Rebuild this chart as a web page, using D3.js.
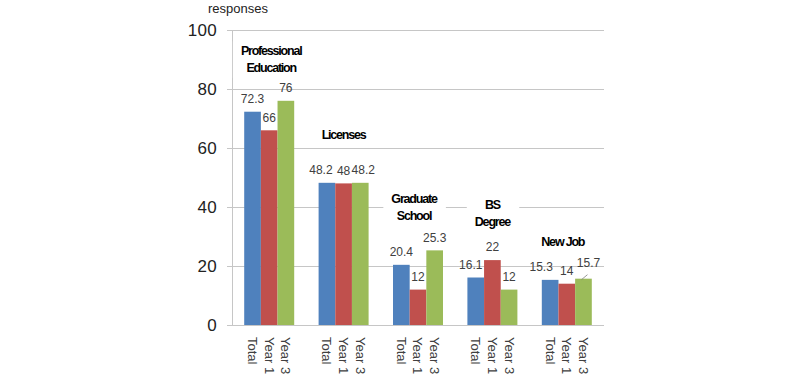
<!DOCTYPE html>
<html><head><meta charset="utf-8">
<script src="https://cdn.jsdelivr.net/npm/d3@7/dist/d3.min.js"></script>
<style>
body{margin:0;background:#fff;}
svg{display:block;font-family:"Liberation Sans",Arial,sans-serif;}
</style></head>
<body><svg id="c" width="800" height="378"></svg>
<script>
// ---- data ----
const categories = ["Professional Education","Licenses","Graduate School","BS Degree","New Job"];
const categoryLines = [["Professional","Education"],["Licenses"],["Graduate","School"],["BS","Degree"],["New Job"]];
const seriesNames = ["Total","Year 1","Year 3"];
const totalValues = [72.3,48.2,20.4,16.1,15.3];
const year1Values = [66,48,12,22,14];
const year3Values = [76,48.2,25.3,12,15.7];
const yTicks = [0,20,40,60,80,100];
const yTitle = "responses";

// ---- drawing ----
(function(){
const series = [totalValues, year1Values, year3Values];
const colors = ["#4F81BD","#C0504D","#9BBB59"];
const svg = d3.select("#c");
const mLeft = 232, mRight = 604, mTop = 30, mBottom = 325;

const y = d3.scaleLinear().domain([0,100]).range([mBottom, mTop]);
const x0 = d3.scaleBand().domain(categories).range([mLeft,mRight]).paddingInner(0.328).paddingOuter(0.164);
const x1 = d3.scaleBand().domain(seriesNames).range([0, x0.bandwidth()]);

// gridlines
svg.append("g").selectAll("line").data(yTicks.filter(d=>d>0)).join("line")
  .attr("x1", mLeft-5).attr("x2", mRight)
  .attr("y1", d=>y(d)).attr("y2", d=>y(d))
  .attr("stroke","#c6c6c6").attr("stroke-width",1).attr("shape-rendering","crispEdges");

// y axis
const yAxis = d3.axisLeft(y).tickValues(yTicks).tickSize(5).tickPadding(10);
const gy = svg.append("g").attr("transform",`translate(${mLeft},0)`).call(yAxis);
gy.select(".domain").attr("stroke","#c6c6c6").attr("shape-rendering","crispEdges");
gy.selectAll(".tick line").attr("stroke","#c6c6c6").attr("shape-rendering","crispEdges");
gy.selectAll(".tick text").attr("font-size",17).attr("fill","#222")
  .attr("font-family","'Liberation Sans',Arial,sans-serif").attr("letter-spacing","0.3px");

// baseline
svg.append("line").attr("x1",mLeft).attr("x2",mRight).attr("y1",y(0)).attr("y2",y(0))
  .attr("stroke","#c6c6c6").attr("shape-rendering","crispEdges");

svg.append("text").attr("x",208).attr("y",13).attr("font-size",13).attr("fill","#222").text(yTitle);

// category annotations (with white background boxes)
const annoVal = [92.9, 64.4, 42.7, 40.7, 28.1];
const annoDx = [2, 0, -4, 0, -4];
const lineH = 16.5;
categories.forEach((c,i)=>{
  const g = svg.append("g");
  const cx = x0(c) + x0.bandwidth()/2 + annoDx[i];
  const cy = y(annoVal[i]);
  const lines = categoryLines[i];
  const t = g.append("text").attr("text-anchor","middle").attr("font-size",12.5)
    .attr("font-weight","bold").attr("letter-spacing","-1.2px").attr("fill","#000");
  lines.forEach((l,j)=>{
    t.append("tspan").attr("x",cx).attr("y",cy + j*lineH).attr("dy","0.35em").text(l);
  });
  const bb = t.node().getBBox();
  g.insert("rect","text").attr("x",bb.x-8).attr("y",bb.y-3).attr("width",bb.width+16).attr("height",bb.height+6).attr("fill","#fff");
});

// bars
const barData = [];
categories.forEach((c,i)=>seriesNames.forEach((s,k)=>barData.push({c,s,k,v:series[k][i],i})));
svg.append("g").selectAll("rect").data(barData).join("rect")
  .attr("x", d=>x0(d.c)+x1(d.s)).attr("width", x1.bandwidth())
  .attr("y", d=>y(d.v)).attr("height", d=>y(0)-y(d.v))
  .attr("fill", d=>colors[d.k]);

// value labels
const labelDx = {"1-0":-6,"1-2":3,"3-0":-5,"4-0":-9,"4-2":5};
const labelDy = {"4-2":-3};
svg.append("g").selectAll("text").data(barData).join("text")
  .attr("x", d=>x0(d.c)+x1(d.s)+x1.bandwidth()/2 + (labelDx[d.i+"-"+d.k]||0))
  .attr("y", d=>y(d.v)-13 + (labelDy[d.i+"-"+d.k]||0))
  .attr("dy","0.35em").attr("text-anchor","middle").attr("font-size",12).attr("fill","#404040")
  .text(d=>d.v);

// leader line for New Job Year 3
{
  const d = barData.find(b=>b.i===4 && b.k===2);
  const bx = x0(d.c)+x1(d.s)+x1.bandwidth()/2;
  svg.append("line").attr("x1",bx-2).attr("y1",y(d.v)+1).attr("x2",bx+4).attr("y2",y(d.v)-4)
    .attr("stroke","#808080").attr("stroke-width",0.8);
}

// x tick labels (rotated)
svg.append("g").selectAll("text").data(barData).join("text")
  .attr("transform", d=>`translate(${x0(d.c)+x1(d.s)+x1.bandwidth()/2},${mBottom+12}) rotate(90)`)
  .attr("dy","0.35em").attr("font-size",13).attr("fill","#404040")
  .text(d=>d.s);
})();
</script></body></html>
